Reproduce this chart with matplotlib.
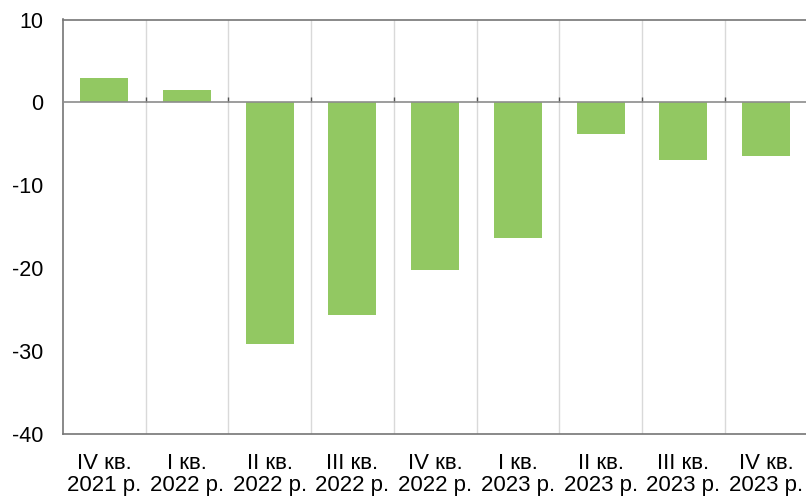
import numpy as np
import matplotlib.pyplot as plt

plt.rcParams['font.family'] = ['Liberation Sans', 'DejaVu Sans']

quarters = ["IV кв.", "I кв.", "II кв.", "III кв.", "IV кв.",
            "I кв.", "II кв.", "III кв.", "IV кв."]
years = ["2021 р.", "2022 р.", "2022 р.", "2022 р.", "2022 р.",
         "2023 р.", "2023 р.", "2023 р.", "2023 р."]
values = [2.9, 1.5, -29.1, -25.7, -20.2, -16.4, -3.8, -7.0, -6.5]
y_ticks = [-40, -30, -20, -10, 0, 10]

BAR_COLOR = "#92C862"
FRAME = "#767676"

fig = plt.figure(figsize=(8.06, 5.0), dpi=100)
ax = fig.add_axes([0.078, 0.132, 0.924, 0.829])

x = np.arange(len(values))
ax.bar(x, values, width=0.58, color=BAR_COLOR, zorder=3)

ax.set_xlim(-0.5, len(values) - 0.5)
ax.set_ylim(-40, 10)
ax.set_yticks(y_ticks)
ax.set_yticklabels([str(v) for v in y_ticks])

ax.set_xticks(x)
ax.set_xticklabels([f"{q}\n{y}" for q, y in zip(quarters, years)],
                   linespacing=1.05)

# category separators
bounds = x[:-1] + 0.5
for b in bounds:
    ax.axvline(b, color="#D9D9D9", lw=1.0, zorder=1)
ax.vlines(bounds, 0, 0.7, color="#555555", lw=1.0, zorder=4)
ax.axhline(0, color="#8C8C8C", lw=1.2, zorder=4)

for side in ["top", "left", "bottom", "right"]:
    ax.spines[side].set_color(FRAME)
    ax.spines[side].set_linewidth(1.2)

ax.tick_params(axis="both", length=0, colors="black")
ax.tick_params(axis="y", pad=14, labelsize=15.5)
ax.tick_params(axis="x", pad=14, labelsize=16)

fig.savefig("out.png", dpi=100)
